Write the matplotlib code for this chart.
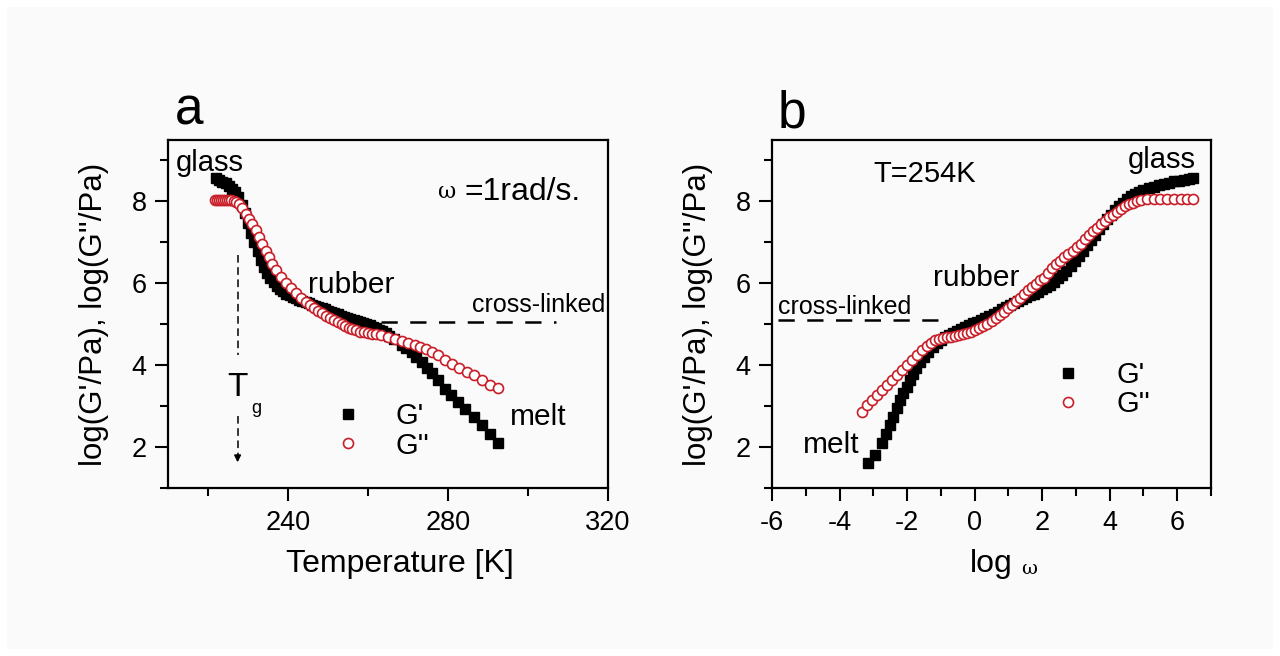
import matplotlib
matplotlib.use('Agg')
import matplotlib.pyplot as plt
from matplotlib.ticker import MultipleLocator

plt.rcParams['font.family'] = ['Liberation Sans', 'DejaVu Sans']
plt.rcParams['axes.unicode_minus'] = False

# ---- panel a: temperature sweep at 1 rad/s ----
T_gp = [222.0, 222.8, 223.6, 224.4, 225.2, 226.0, 226.8, 227.6, 228.4, 229.2,
        230.0, 230.8, 231.6, 232.4, 233.2, 234.0, 234.8, 235.6, 236.4, 237.2,
        238.0, 238.8, 239.6, 240.4, 241.2, 242.0, 242.8, 243.6, 244.4, 245.2,
        246.0, 246.8, 247.6, 248.4, 249.2, 250.0, 250.8, 251.6, 252.4, 253.2,
        254.0, 254.8, 255.6, 256.4, 257.2, 258.0, 258.8, 259.6, 260.4, 261.2,
        262.0, 262.8, 263.6, 264.4, 265.3, 266.6, 268.4, 269.6, 270.9, 272.1,
        273.4, 274.7, 275.9, 277.6, 279.3, 280.8, 282.6, 284.3, 286.6, 288.5,
        290.6, 292.4]
logGp_T = [8.58, 8.53, 8.48, 8.44, 8.38, 8.31, 8.23, 8.10, 7.92, 7.72,
           7.48, 7.24, 7.00, 6.78, 6.58, 6.40, 6.25, 6.12, 6.02, 5.93,
           5.86, 5.80, 5.75, 5.71, 5.67, 5.63, 5.60, 5.57, 5.54, 5.51,
           5.48, 5.45, 5.42, 5.39, 5.36, 5.33, 5.30, 5.27, 5.24, 5.21,
           5.18, 5.15, 5.12, 5.10, 5.07, 5.05, 5.02, 5.00, 4.97, 4.94,
           4.91, 4.87, 4.83, 4.78, 4.72, 4.63, 4.49, 4.41, 4.32, 4.20,
           4.08, 3.93, 3.80, 3.63, 3.43, 3.27, 3.10, 2.94, 2.74, 2.54,
           2.33, 2.10]

T_gpp = [221.8, 222.3, 222.8, 223.3, 223.8, 224.3, 224.8, 225.3, 225.8, 226.4,
         227.0, 227.7, 228.5, 229.4, 230.2, 231.1, 231.9, 232.7, 233.6, 234.4,
         235.2, 236.1, 237.1, 238.2, 239.4, 240.7, 242.0, 243.3, 244.5, 245.6,
         246.6, 247.6, 248.6, 249.6, 250.6, 251.6, 252.5, 253.4, 254.3, 255.2,
         256.1, 257.0, 258.0, 259.0, 260.0, 261.0, 262.0, 263.3, 265.0, 266.7,
         268.4, 270.0, 271.7, 273.1, 274.4, 276.0, 277.6, 279.3, 280.9, 282.8,
         284.7, 286.6, 288.5, 290.6, 292.4]
logGpp_T = [8.04, 8.04, 8.04, 8.04, 8.04, 8.04, 8.03, 8.03, 8.03, 8.02,
            7.99, 7.94, 7.83, 7.70, 7.58, 7.45, 7.29, 7.13, 6.97, 6.80,
            6.64, 6.48, 6.32, 6.15, 6.00, 5.88, 5.77, 5.64, 5.54, 5.46,
            5.39, 5.33, 5.27, 5.21, 5.15, 5.10, 5.05, 5.00, 4.96, 4.92,
            4.88, 4.85, 4.82, 4.80, 4.79, 4.77, 4.76, 4.73, 4.69, 4.65,
            4.59, 4.55, 4.49, 4.45, 4.39, 4.32, 4.24, 4.12, 4.04, 3.94,
            3.84, 3.76, 3.65, 3.52, 3.44]

xlink_T = [263.3, 306.9]
xlink_T_level = [5.05, 5.05]
Tg = 227.4

# ---- panel b: frequency sweep at 254 K ----
w_gp = [-3.15, -2.95, -2.75, -2.62, -2.51, -2.41, -2.31, -2.21, -2.11, -2.01,
        -1.92, -1.83, -1.74, -1.62, -1.50, -1.37, -1.24, -1.12, -1.00, -0.88,
        -0.76, -0.64, -0.52, -0.40, -0.28, -0.16, -0.04, 0.08, 0.20, 0.32,
        0.44, 0.56, 0.68, 0.80, 0.92, 1.04, 1.16, 1.28, 1.40, 1.52,
        1.64, 1.76, 1.88, 2.00, 2.12, 2.24, 2.36, 2.48, 2.60, 2.72,
        2.84, 2.96, 3.08, 3.20, 3.32, 3.44, 3.56, 3.68, 3.80, 3.92,
        4.04, 4.16, 4.28, 4.40, 4.52, 4.64, 4.76, 4.88, 5.00, 5.15,
        5.30, 5.45, 5.60, 5.75, 5.90, 6.05, 6.20, 6.35, 6.48]
logGp_w = [1.60, 1.80, 2.09, 2.33, 2.54, 2.74, 2.96, 3.15, 3.31, 3.47,
           3.63, 3.79, 3.93, 4.08, 4.21, 4.33, 4.44, 4.53, 4.61, 4.68,
           4.74, 4.79, 4.84, 4.88, 4.93, 4.97, 5.02, 5.06, 5.11, 5.16,
           5.21, 5.26, 5.31, 5.36, 5.41, 5.46, 5.51, 5.56, 5.61, 5.66,
           5.71, 5.75, 5.79, 5.85, 5.91, 5.97, 6.04, 6.12, 6.21, 6.31,
           6.42, 6.54, 6.67, 6.80, 6.93, 7.06, 7.19, 7.32, 7.45, 7.57,
           7.68, 7.78, 7.88, 7.97, 8.05, 8.12, 8.18, 8.23, 8.27, 8.32,
           8.36, 8.40, 8.43, 8.46, 8.49, 8.51, 8.53, 8.55, 8.57]

w_gpp = [-3.34, -3.20, -3.05, -2.90, -2.75, -2.60, -2.46, -2.31, -2.16, -2.01,
         -1.86, -1.72, -1.57, -1.42, -1.30, -1.18, -1.06, -0.94, -0.82, -0.70,
         -0.58, -0.46, -0.34, -0.22, -0.10, 0.02, 0.14, 0.26, 0.38, 0.50,
         0.62, 0.74, 0.86, 0.98, 1.10, 1.22, 1.34, 1.46, 1.58, 1.70,
         1.82, 1.94, 2.06, 2.18, 2.30, 2.42, 2.54, 2.66, 2.78, 2.90,
         3.02, 3.14, 3.26, 3.38, 3.50, 3.62, 3.74, 3.86, 3.98, 4.10,
         4.22, 4.34, 4.46, 4.58, 4.70, 4.82, 4.94, 5.10, 5.30, 5.50,
         5.70, 5.90, 6.10, 6.30, 6.48]
logGpp_w = [2.86, 3.02, 3.15, 3.27, 3.39, 3.51, 3.63, 3.76, 3.88, 4.00,
            4.12, 4.24, 4.36, 4.47, 4.55, 4.61, 4.65, 4.67, 4.69, 4.70,
            4.71, 4.73, 4.75, 4.78, 4.81, 4.85, 4.90, 4.95, 5.01, 5.08,
            5.15, 5.23, 5.31, 5.39, 5.47, 5.56, 5.65, 5.74, 5.83, 5.92,
            5.98, 6.07, 6.14, 6.26, 6.37, 6.46, 6.55, 6.63, 6.71, 6.79,
            6.88, 6.97, 7.07, 7.17, 7.27, 7.36, 7.45, 7.53, 7.61, 7.68,
            7.75, 7.82, 7.88, 7.93, 7.97, 8.02, 8.04, 8.05, 8.05, 8.05,
            8.05, 8.05, 8.05, 8.05, 8.05]

xlink_w = [-5.82, -0.96]
xlink_w_level = [5.1, 5.1]

red = '#c81e28'
bg = '#fafafa'

fig = plt.figure(figsize=(12.8, 6.56), dpi=100)
fig.patch.set_facecolor(bg)
fig.patch.set_edgecolor('white')
fig.patch.set_linewidth(10)

ax1 = fig.add_axes([0.13125, 0.2561, 0.34375, 0.5305])
ax2 = fig.add_axes([0.603125, 0.2561, 0.34297, 0.5305])

for ax in (ax1, ax2):
    ax.set_facecolor(bg)
    for s in ax.spines.values():
        s.set_linewidth(1.6)
    ax.tick_params(which='both', direction='out', width=1.5, labelsize=19.5,
                   top=False, right=False)
    ax.tick_params(which='major', length=9.5, pad=6)
    ax.tick_params(which='minor', length=5.5)
    ax.set_ylim(1, 9.5)
    ax.yaxis.set_major_locator(MultipleLocator(2))
    ax.yaxis.set_minor_locator(MultipleLocator(1))
    ax.set_ylabel("log(G'/Pa), log(G''/Pa)", fontsize=22.5, labelpad=16)

# panel a
ax1.plot(T_gp, logGp_T, 's', color='black', ms=6.8, label="G'")
ax1.plot(T_gpp, logGpp_T, 'o', mfc='white', mec=red, mew=1.2, ms=7.2, label="G''")
ln, = ax1.plot(xlink_T, xlink_T_level, color='black', lw=1.8)
ln.set_dashes((6.5, 5))
ax1.plot([Tg, Tg], [6.7, 4.25], color='black', lw=1.1, ls=(0, (5, 3)))
ax1.plot([Tg, Tg], [2.75, 1.8], color='black', lw=1.1, ls=(0, (5, 3)))
ax1.annotate('', xy=(Tg, 1.56), xytext=(Tg, 1.85),
             arrowprops=dict(arrowstyle='-|>', color='black', lw=1.1, mutation_scale=10))
ax1.text(Tg, 3.45, 'T', fontsize=24, ha='center', va='center')
ax1.text(232.0, 2.95, 'g', fontsize=13, ha='center', va='center')

ax1.set_xlim(210, 320)
ax1.xaxis.set_major_locator(MultipleLocator(40))
ax1.xaxis.set_minor_locator(MultipleLocator(20))
ax1.set_xlabel('Temperature [K]', fontsize=23, labelpad=10, x=0.526)

ax1.text(212, 8.95, 'glass', fontsize=21, va='center')
ax1.text(245.0, 5.95, 'rubber', fontsize=21.5, va='center')
ax1.text(286.0, 5.46, 'cross-linked', fontsize=18, va='center')
ax1.text(295.5, 2.73, 'melt', fontsize=21.5, va='center')
ax1.text(279.7, 8.22, 'ω', family='DejaVu Serif', fontsize=16, ha='center', va='center')
ax1.text(284.0, 8.22, '=1rad/s.', fontsize=23, va='center')
ax1.text(0.016, 1.045, 'a', transform=ax1.transAxes, fontsize=37, va='baseline')

ax1.legend(loc='center left', bbox_to_anchor=(0.375, 0.164), frameon=False,
           fontsize=21, handlelength=1.0, handletextpad=1.15, labelspacing=0.05,
           borderpad=0, borderaxespad=0)

# panel b
ax2.plot(w_gp, logGp_w, 's', color='black', ms=6.8, label="G'")
ax2.plot(w_gpp, logGpp_w, 'o', mfc='white', mec=red, mew=1.2, ms=7.2, label="G''")
ln, = ax2.plot(xlink_w, xlink_w_level, color='black', lw=1.8)
ln.set_dashes((6.5, 5))

ax2.set_xlim(-6, 7)
ax2.xaxis.set_major_locator(MultipleLocator(2))
ax2.xaxis.set_minor_locator(MultipleLocator(1))
ax2.set_xlabel('log', fontsize=23, labelpad=10)
ax2.annotate('ω', xy=(1, 0.35), xycoords=ax2.xaxis.label, xytext=(6, 0),
             textcoords='offset points', family='DejaVu Serif', fontsize=14,
             va='center', ha='left')

ax2.text(-3.0, 8.68, 'T=254K', fontsize=21, va='center')
ax2.text(4.54, 9.0, 'glass', fontsize=21, va='center')
ax2.text(-1.23, 6.12, 'rubber', fontsize=21.5, va='center')
ax2.text(-5.82, 5.41, 'cross-linked', fontsize=18, va='center')
ax2.text(-5.08, 2.05, 'melt', fontsize=21.5, va='center')
ax2.text(0.014, 1.037, 'b', transform=ax2.transAxes, fontsize=37, va='baseline')

ax2.legend(loc='center left', bbox_to_anchor=(0.641, 0.283), frameon=False,
           fontsize=21, handlelength=1.0, handletextpad=1.15, labelspacing=0.05,
           borderpad=0, borderaxespad=0)

fig.savefig('out.png', dpi=100)
